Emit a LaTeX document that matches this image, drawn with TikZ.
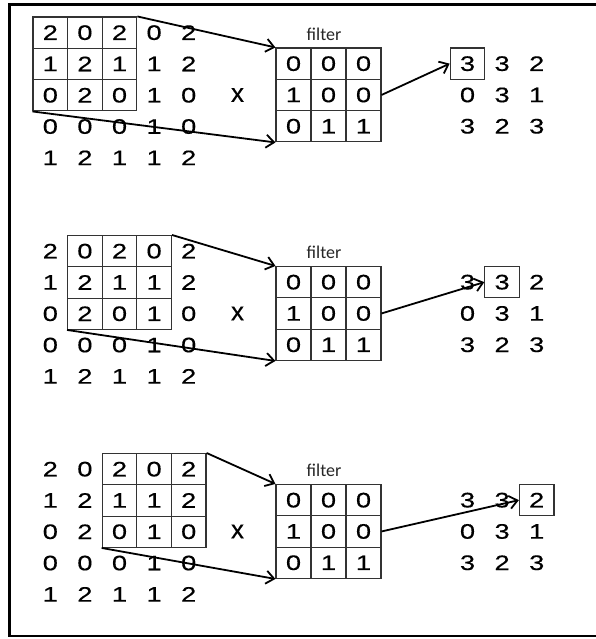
\documentclass[tikz,border=0pt]{standalone}
\usepackage{fontspec}
\setmainfont{Liberation Sans}
\newfontfamily\digitfont[FakeStretch=1.3,FakeBold=0.4]{Liberation Sans}
\newfontfamily\timesfont[FakeBold=0.4]{Liberation Sans}
\newfontfamily\labelfont{Carlito}
\usetikzlibrary{arrows.meta}
\tikzset{
  num/.style={font=\digitfont\fontsize{21}{23}\selectfont, inner sep=0pt,
    minimum width=34.6pt, minimum height=31.3pt, anchor=center, line width=1.1pt},
  fnum/.style={num, draw=black!80, minimum width=35pt},
  filterlabel/.style={font=\labelfont\fontsize{18}{20}\selectfont, text=black!85, inner sep=0pt},
  timeslabel/.style={font=\timesfont\fontsize{26}{28}\selectfont, inner sep=0pt},
  conn/.style={line width=1.8pt, -{Straight Barb[length=8pt,width=13pt,line width=1.8pt]}},
  frame/.style={line width=2.5pt},
}
\newcommand\drawpanel[4]{%
\begin{scope}[yshift=-#4pt]
  % input 5x5
  \foreach \r/\row in {0/{2,0,2,0,2},1/{1,2,1,1,2},2/{0,2,0,1,0},3/{0,0,0,1,0},4/{1,2,1,1,2}}{
    \foreach \v [count=\ci from 0] in \row {
      \pgfmathtruncatemacro\inbox{and(\r<3,and(\ci>=#2,\ci<#2+3))}
      \ifnum\inbox=1 \def\bc{black!80}\else\def\bc{none}\fi
      \node[num, draw=\bc] (in#1-\r-\ci) at ({50.3+34.6*\ci},{32.65+31.3*\r}) {\v};
    }
  }
  % times sign
  \node[timeslabel] (x#1) at (237.5,95) {x};
  % filter
  \node[filterlabel] (fl#1) at (324,34) {filter};
  \foreach \r/\row in {0/{0,0,0},1/{1,0,0},2/{0,1,1}}{
    \foreach \v [count=\ci from 0] in \row {
      \node[fnum] (f#1-\r-\ci) at ({293.5+35*\ci},{63.65+31.3*\r}) {\v};
    }
  }
  % output
  \foreach \r/\row in {0/{3,3,2},1/{0,3,1},2/{3,2,3}}{
    \foreach \v [count=\ci from 0] in \row {
      \ifnum\r=0 \ifnum\ci=#3 \def\bc{black!80}\else\def\bc{none}\fi\else\def\bc{none}\fi
      \node[num, draw=\bc] (o#1-\r-\ci) at ({467.5+34.6*\ci},{63.65+31.3*\r}) {\v};
    }
  }
  \pgfmathtruncatemacro\bend{#2+2}
  \draw[conn] (in#1-0-\bend.north east) -- (f#1-0-0.north west);
  \draw[conn] (in#1-2-#2.south west) -- (f#1-2-0.south west);
  \draw[conn] (f#1-1-2.east) -- (o#1-0-#3.west);
\end{scope}}
\begin{document}
\begin{tikzpicture}[x=1pt,y=-1pt]
  \useasboundingbox (0,0) rectangle (596,639);
  \draw[frame] (596,4.5) -- (9.5,4.5) -- (9.5,636) -- (596,636);
  \drawpanel{a}{0}{0}{0}
  \drawpanel{b}{1}{1}{218.5}
  \drawpanel{c}{2}{2}{436.5}
\end{tikzpicture}
\end{document}
